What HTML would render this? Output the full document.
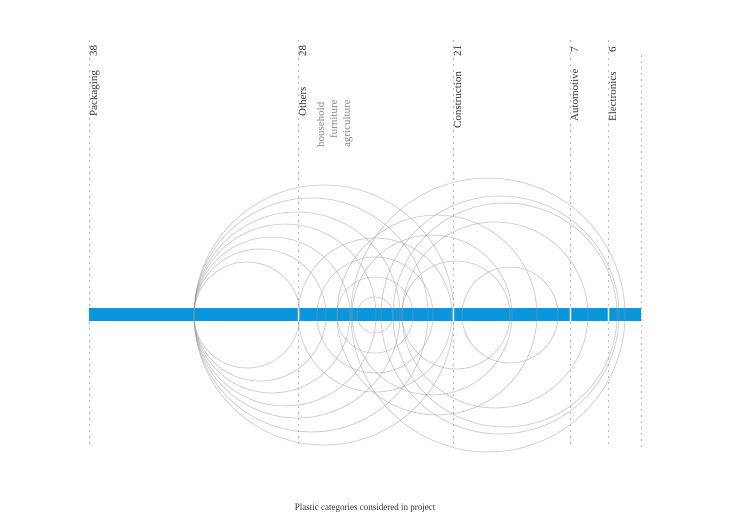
<!DOCTYPE html>
<html><head><style>html,body{margin:0;padding:0;background:#fff}svg{display:block}</style></head>
<body>
<svg width="730" height="516" viewBox="0 0 730 516" xmlns="http://www.w3.org/2000/svg">
<g stroke="#bbb" stroke-width="1" stroke-dasharray="2,4">
<line x1="89.5" y1="40" x2="89.5" y2="448"/>
<line x1="298.5" y1="40" x2="298.5" y2="448"/>
<line x1="453.5" y1="40" x2="453.5" y2="448"/>
<line x1="570.5" y1="40" x2="570.5" y2="448"/>
<line x1="608.5" y1="40" x2="608.5" y2="448"/>
<line x1="641.5" y1="55" x2="641.5" y2="448"/>
</g>
<rect x="89" y="308" width="552" height="13" fill="#0a96dc"/>
<g stroke="#fff" stroke-width="1.5">
<line x1="298.5" y1="308" x2="298.5" y2="321"/>
<line x1="453.5" y1="308" x2="453.5" y2="321"/>
<line x1="570.5" y1="308" x2="570.5" y2="321"/>
<line x1="608.5" y1="308" x2="608.5" y2="321"/>
</g>
<g fill="none" stroke="#999" stroke-opacity="0.55" stroke-width="0.8">
<circle cx="324" cy="315" r="130"/>
<circle cx="311" cy="315" r="117"/>
<circle cx="297" cy="315" r="103"/>
<circle cx="285" cy="315" r="91"/>
<circle cx="272" cy="315" r="78"/>
<circle cx="260" cy="315" r="66"/>
<circle cx="247" cy="315" r="53"/>
<circle cx="375" cy="315" r="18"/>
<circle cx="375" cy="315" r="38"/>
<circle cx="375" cy="315" r="58"/>
<circle cx="375" cy="315" r="77"/>
<circle cx="510" cy="315" r="48"/>
<circle cx="456" cy="315" r="54"/>
<circle cx="432" cy="315" r="80"/>
<circle cx="488" cy="315" r="137"/>
<circle cx="500" cy="315" r="119"/>
<circle cx="505" cy="315" r="112"/>
<circle cx="495" cy="315" r="93"/>
<circle cx="437" cy="315" r="100"/>
</g>
<g font-family="'Liberation Serif',serif" font-size="11" fill="#333">
<text transform="translate(97,116) rotate(-90)">Packaging</text>
<text transform="translate(97,56) rotate(-90)">38</text>
<text transform="translate(306,116) rotate(-90)">Others</text>
<text transform="translate(306,56) rotate(-90)">28</text>
<text transform="translate(461,128) rotate(-90)">Construction</text>
<text transform="translate(461,56) rotate(-90)">21</text>
<text transform="translate(578,121) rotate(-90)">Automotive</text>
<text transform="translate(578,52) rotate(-90)">7</text>
<text transform="translate(616,121) rotate(-90)">Electronics</text>
<text transform="translate(616,52) rotate(-90)">6</text>
</g>
<g font-family="'Liberation Serif',serif" font-size="11" fill="#888">
<text transform="translate(324,147) rotate(-90)">household</text>
<text transform="translate(337,138) rotate(-90)">furniture</text>
<text transform="translate(350,147) rotate(-90)">agriculture</text>
</g>
<text x="365" y="510" text-anchor="middle" font-family="'Liberation Serif',serif" font-size="9" fill="#333">Plastic categories considered in project</text>
</svg>
</body></html>
